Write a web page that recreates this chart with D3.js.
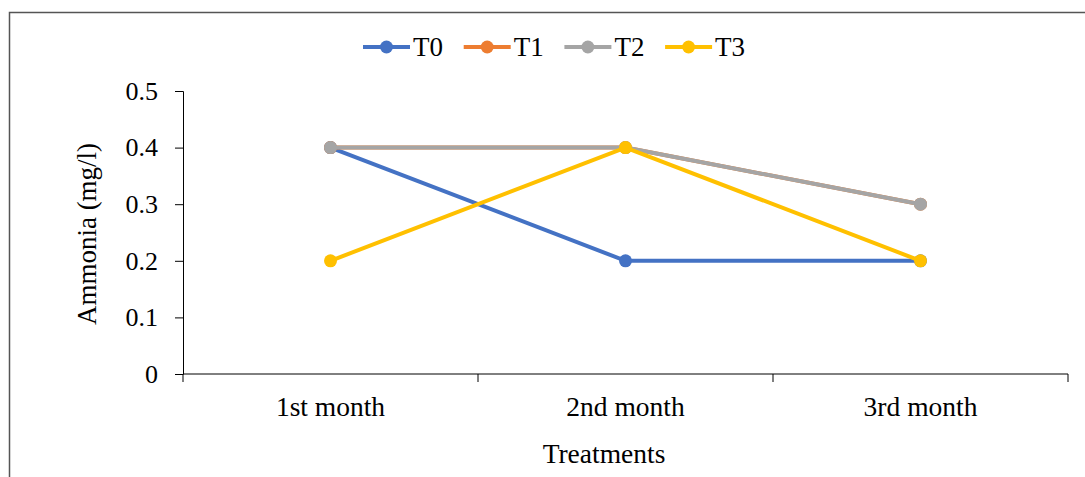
<!DOCTYPE html>
<html><head><meta charset="utf-8">
<script src="https://cdn.jsdelivr.net/npm/d3@7"></script>
<style>body{margin:0;background:#fff}svg{display:block}</style>
</head><body><svg id="c" width="1085" height="477"></svg>
<script>
const categories = ["1st month", "2nd month", "3rd month"];
const seriesNames = ["T0", "T1", "T2", "T3"];
const T0 = [0.4, 0.2, 0.2];
const T1 = [0.4, 0.4, 0.3];
const T2 = [0.4, 0.4, 0.3];
const T3 = [0.2, 0.4, 0.2];
const colors = ["#4472C4", "#ED7D31", "#A5A5A5", "#FFC000"];
const yTicks = [0, 0.1, 0.2, 0.3, 0.4, 0.5];

const series = [T0, T1, T2, T3];
const svg = d3.select("#c");
const font = "'Liberation Serif','Times New Roman',serif";

svg.append("rect").attr("x", 9.5).attr("y", 12.5).attr("width", 1090).attr("height", 480)
  .attr("fill", "none").attr("stroke", "#555").attr("stroke-width", 1.5);

const x = d3.scaleBand().domain(categories).range([183, 1068]);
const y = d3.scaleLinear().domain([0, 0.5]).range([374, 91]);

const yAxis = svg.append("g").attr("transform", "translate(183,0)")
  .call(d3.axisLeft(y).tickValues(yTicks).tickSize(8).tickPadding(17).tickFormat(d => d3.format("")(+d.toFixed(1))));
yAxis.select(".domain").attr("d", "M-8,91.5H0.5V374.5");
const xAxis = svg.append("g").attr("transform", "translate(0,374)")
  .call(d3.axisBottom(x).tickSize(0).tickPadding(22));
xAxis.select(".domain").attr("d", "M183,0H1068");
svg.append("g").selectAll("line").data(categories.concat([null])).join("line")
  .attr("x1", (d, i) => i < categories.length ? x(d) : 1068)
  .attr("x2", (d, i) => i < categories.length ? x(d) : 1068)
  .attr("y1", 374).attr("y2", 382).attr("stroke", "#000");

yAxis.selectAll(".tick text").attr("font-family", font).attr("font-size", 26).attr("fill", "#000");
xAxis.selectAll(".tick text").attr("font-family", font).attr("font-size", 27.5).attr("fill", "#000");
svg.selectAll(".domain, .tick line").attr("stroke", "#000").attr("stroke-width", 1);

const line = d3.line().x((d, i) => x(categories[i]) + x.bandwidth() / 2).y(d => y(d));
series.forEach((s, k) => {
  const g = svg.append("g");
  g.append("path").attr("d", line(s)).attr("fill", "none").attr("stroke", colors[k]).attr("stroke-width", 4);
  g.selectAll("circle").data(s).join("circle")
    .attr("cx", (d, i) => x(categories[i]) + x.bandwidth() / 2).attr("cy", d => y(d))
    .attr("r", 6.5).attr("fill", colors[k]);
});

const lg = svg.append("g");
seriesNames.forEach((n, k) => {
  const x0 = 363 + k * 100.7;
  lg.append("line").attr("x1", x0).attr("x2", x0 + 47).attr("y1", 47).attr("y2", 47)
    .attr("stroke", colors[k]).attr("stroke-width", 4);
  lg.append("circle").attr("cx", x0 + 23.5).attr("cy", 47).attr("r", 6.5).attr("fill", colors[k]);
  lg.append("text").attr("x", x0 + 50).attr("y", 56).attr("font-family", font).attr("font-size", 27).text(n);
});

svg.append("text").attr("x", 604).attr("y", 463).attr("text-anchor", "middle")
  .attr("font-family", font).attr("font-size", 27.5).text("Treatments");
svg.append("text").attr("transform", "translate(96,234) rotate(-90)").attr("text-anchor", "middle")
  .attr("font-family", font).attr("font-size", 27).text("Ammonia (mg/l)");
</script></body></html>
